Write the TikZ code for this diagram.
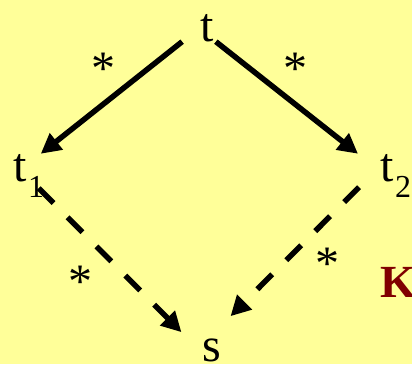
\documentclass[tikz,border=0pt]{standalone}
\usepackage{fontspec}
\setmainfont{Liberation Serif}
\usetikzlibrary{arrows.meta}
\definecolor{bgyellow}{HTML}{FFFF99}
\definecolor{darkred}{HTML}{800000}
\tikzset{
  lbl/.style={inner sep=0pt, font=\fontsize{48}{48}\selectfont},
  starlbl/.style={inner sep=0pt, anchor=base, font=\fontsize{48}{48}\selectfont},
  solidarr/.style={line width=5.5pt, -{Triangle[length=20pt,width=20pt]}},
  dasharr/.style={line width=5.5pt, dash pattern=on 21pt off 20pt, -{Triangle[length=20pt,width=20pt]}},
}
\newcommand{\subdigit}[1]{\hspace{1.5pt}\raisebox{-16pt}{\fontsize{32}{32}\selectfont #1}}
\begin{document}
\begin{tikzpicture}[x=1pt,y=-1pt]
  \useasboundingbox (0,0) rectangle (412,364);
  \clip (0,0) rectangle (412,364);
  \fill[bgyellow] (0,0) rectangle (412,364);
  \node[lbl, anchor=base] (t) at (207,41) {t};
  \node[lbl, anchor=base west] (t1) at (13,181) {t\subdigit{1}};
  \node[lbl, anchor=base west] (t2) at (380,181) {t\subdigit{2}};
  \node[lbl, anchor=base] (s) at (212,361) {s};
  \node[starlbl] (st1) at (103,84.5) {*};
  \node[starlbl] (st2) at (295,84.5) {*};
  \node[starlbl] (st3) at (80,297.5) {*};
  \node[starlbl] (st4) at (327,279.5) {*};
  \node[lbl, anchor=base west, text=darkred, font=\fontsize{46}{46}\selectfont\bfseries] (k) at (380,297) {K};
  \draw[solidarr] ([xshift=-18pt]t.south west) -- ([xshift=-3.5pt]t1.north east);
  \draw[solidarr] ([xshift=2pt]t.south east) -- ([xshift=-22pt]t2.north west);
  \draw[dasharr] ([xshift=-5.5pt,yshift=9pt]t1.south east) -- ([xshift=-21pt,yshift=6pt]s.north west);
  \draw[dasharr] ([xshift=-21pt,yshift=10pt]t2.south west) -- ([xshift=9pt,yshift=22pt]s.north east);
\end{tikzpicture}
\end{document}
